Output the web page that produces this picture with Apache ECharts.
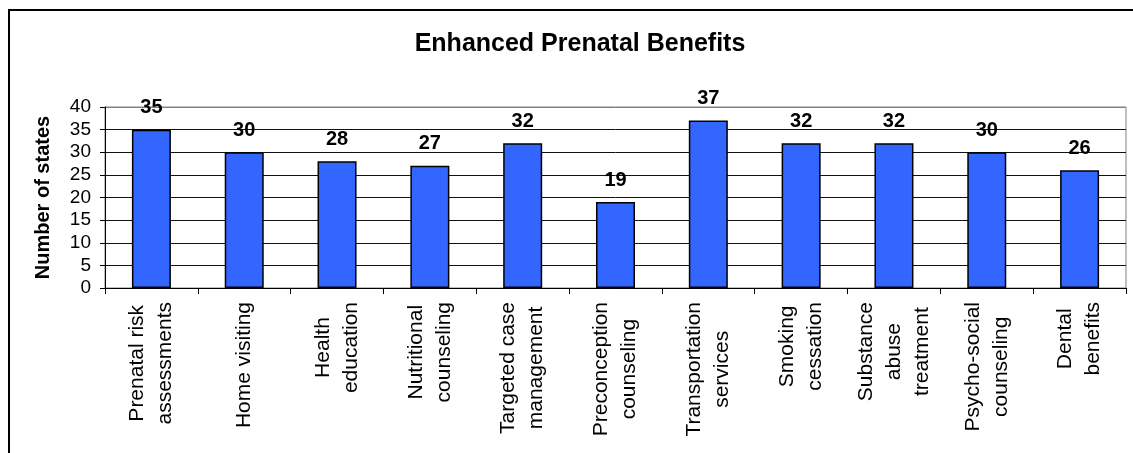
<!DOCTYPE html>
<html>
<head>
<meta charset="utf-8">
<script src="https://cdn.jsdelivr.net/npm/echarts@6/dist/echarts.min.js"></script>
<style>
html,body{margin:0;padding:0;background:#fff;}
#chart{width:1133px;height:453px;}
</style>
</head>
<body>
<div id="chart"></div>
<script>
var categories = [
  "Prenatal risk\nassessments",
  "Home visiting",
  "Health\neducation",
  "Nutritional\ncounseling",
  "Targeted case\nmanagement",
  "Preconception\ncounseling",
  "Transportation\nservices",
  "Smoking\ncessation",
  "Substance\nabuse\ntreatment",
  "Psycho-social\ncounseling",
  "Dental\nbenefits"
];
var statesCount = [35, 30, 28, 27, 32, 19, 37, 32, 32, 30, 26];
var yTicks = [0, 5, 10, 15, 20, 25, 30, 35, 40];

var FONT = '"Liberation Sans", Arial, sans-serif';
var chart = echarts.init(document.getElementById('chart'), null, {renderer: 'canvas'});
var gridColors = yTicks.map(function (v, i) { return i === yTicks.length - 1 ? '#808080' : '#111'; });

chart.setOption({
  animation: false,
  backgroundColor: '#fff',
  title: {
    text: 'Enhanced Prenatal Benefits',
    left: 575,
    textAlign: 'center',
    top: 27,
    textStyle: {fontFamily: FONT, fontWeight: 'bold', fontSize: 25, color: '#000'}
  },
  graphic: [{
    type: 'rect',
    shape: {x: 9, y: 10, width: 1200, height: 500},
    style: {fill: 'none', stroke: '#000', lineWidth: 2},
    silent: true
  }],
  grid: {
    left: 105, right: 7, top: 107, bottom: 165,
    show: true, borderColor: '#808080', borderWidth: 1, backgroundColor: 'transparent'
  },
  xAxis: {
    type: 'category',
    data: categories,
    axisLine: {show: true, lineStyle: {color: '#000', width: 1}},
    axisTick: {show: true, length: 6, inside: false, alignWithLabel: false, lineStyle: {color: '#000'}},
    axisLabel: {
      rotate: 90,
      interval: 0,
      margin: 14,
      fontFamily: FONT,
      fontSize: 21,
      color: '#000',
      formatter: function (v) {
        return v.split('\n').map(function (l) { return '{c|' + l + '}'; }).join('\n');
      },
      rich: {c: {align: 'center', fontFamily: FONT, fontSize: 21, lineHeight: 28, color: '#000'}}
    },
    splitLine: {show: false}
  },
  yAxis: {
    type: 'value',
    min: yTicks[0],
    max: yTicks[yTicks.length - 1],
    interval: 5,
    name: 'Number of states',
    nameLocation: 'middle',
    nameRotate: 90,
    nameGap: 52,
    nameTextStyle: {fontFamily: FONT, fontWeight: 'bold', fontSize: 20, color: '#000'},
    axisLine: {show: true, lineStyle: {color: '#000', width: 1}},
    axisTick: {show: true, length: 5, lineStyle: {color: '#000'}},
    axisLabel: {margin: 14, fontFamily: FONT, fontSize: 19, color: '#000'},
    splitLine: {show: true, lineStyle: {color: gridColors, width: 1}}
  },
  series: [{
    type: 'bar',
    data: statesCount,
    barWidth: 39,
    itemStyle: {color: '#3366FF', borderColor: '#000', borderWidth: 1.5},
    label: {
      show: true,
      position: 'top',
      distance: 12,
      fontFamily: FONT,
      fontWeight: 'bold',
      fontSize: 20,
      color: '#000'
    }
  }]
});
</script>
</body>
</html>
